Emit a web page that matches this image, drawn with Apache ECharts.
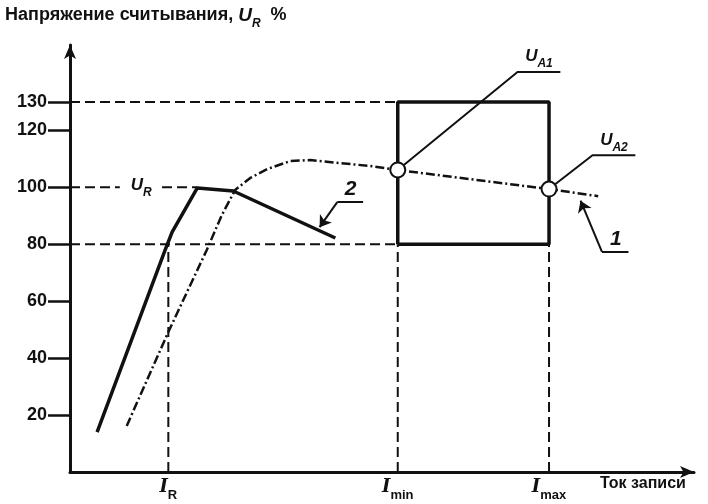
<!DOCTYPE html>
<html><head><meta charset="utf-8">
<script src="https://cdn.jsdelivr.net/npm/echarts@6/dist/echarts.min.js"></script>
<style>html,body{margin:0;padding:0;background:#fff}#c{width:708px;height:504px}</style>
</head><body><div id="c"></div>
<script>
// ---- data ----
const yTicks = [20, 40, 60, 80, 100, 120, 130];
const xMarkValues = [15.6, 52, 76];
const xMarkNames = ['R', 'min', 'max'];
const curve2 = [[4.3,14.0],[15.1,78.0],[16.2,84.3],[20.2,99.8],[25.9,98.7],[42.1,82.2]];
const curve1 = [[9.0,16.2],[15.6,49.2],[21.7,78.0],[24.1,90.3],[26.2,99.1],[28.6,103.3],[31.3,106.4],[34.9,109.2],[38.1,109.6],[42.9,108.5],[47.6,107.5],[52,106.1],[76,99.4],[83.8,96.9]];
const markedX = [52, 76];
const boxX = [52, 76];
const boxY = [80, 130];
const refU = 100;
const refUEnd = 20.2;
const refUGap = [7.9, 14.6];
// annotation leaders (data coords)
const leaderA1 = [[52,106.1],[71.0,140.5],[77.8,140.5]];
const leaderA2 = [[76,99.4],[82.9,111.3],[89.7,111.3]];
const leader1 = [[81.0,95.3],[84.4,77.3],[88.6,77.3]];
const leader2 = [[39.6,86.0],[42.4,94.8],[46.5,94.8]];
const notes = [
  {pos:[74.4,145.2], text:'{u|U}{s|A1}'},
  {pos:[86.3,115.8], text:'{u|U}{s|A2}'},
  {pos:[86.6,81.8], text:'{n|1}'},
  {pos:[44.5,99.3], text:'{n|2}'},
  {pos:[11.3,100], text:'{u|U}{s|R}'}
];

const black = '#111';
const dashed = {color: black, width: 2, type: [10, 5]};
function seg(data, style, z) {
  return {type:'line', data:data, symbol:'none', silent:true, lineStyle:style, z: z||2, animation:false};
}
const rich = {
  u: {fontSize:17, fontWeight:'bold', fontStyle:'italic', color:black, fontFamily:'Liberation Sans', lineHeight:22, verticalAlign:'top'},
  s: {fontSize:12, fontWeight:'bold', fontStyle:'italic', color:black, fontFamily:'Liberation Sans', lineHeight:22, verticalAlign:'bottom', padding:[8,0,0,0]},
  n: {fontSize:21, fontWeight:'bold', fontStyle:'italic', color:black, fontFamily:'Liberation Sans'}
};

const curve1Data = curve1.map(p => markedX.indexOf(p[0]) >= 0
  ? {value:p, symbol:'emptyCircle', symbolSize:15, itemStyle:{color:black, borderColor:black, borderWidth:2.5}}
  : {value:p, symbol:'none'});

const boxData = [[boxX[0],boxY[0]],[boxX[0],boxY[1]],[boxX[1],boxY[1]],[boxX[1],boxY[0]],[boxX[0],boxY[0]]];

function leaderMark(pts, arrow) {
  return [
    [{coord:pts[0], symbol: arrow ? 'arrow' : 'none'}, {coord:pts[1], symbol:'none'}],
    [{coord:pts[1], symbol:'none'}, {coord:pts[2], symbol:'none'}]
  ];
}

const chart = echarts.init(document.getElementById('c'), null, {renderer:'canvas'});
chart.setOption({
  animation:false,
  backgroundColor:'#fff',
  grid:{left:70, right:14, top:45, bottom:32},
  xAxis:{type:'value', min:0, max:99,
    axisLine:{show:true, onZero:false, lineStyle:{color:black, width:3}, symbol:['none','arrow'], symbolSize:[9,14]},
    axisTick:{show:false}, splitLine:{show:false},
    axisLabel:{customValues:xMarkValues, margin:6,
      formatter:function(v){ const i = xMarkValues.indexOf(v); return '{u|I}{s|' + xMarkNames[i] + '}'; },
      rich:{u:{fontSize:18, fontWeight:'bold', fontStyle:'italic', color:black, fontFamily:'DejaVu Serif', lineHeight:24, verticalAlign:'top'},
            s:{fontSize:13, fontWeight:'bold', color:black, fontFamily:'Liberation Sans', lineHeight:24, verticalAlign:'bottom', padding:[10,0,0,0]}}}
  },
  yAxis:{type:'value', min:0, max:150,
    axisLine:{show:true, onZero:false, lineStyle:{color:black, width:3}, symbol:['none','arrow'], symbolSize:[9,14]},
    axisTick:{show:true, customValues:yTicks, length:22, lineStyle:{color:black, width:2.5}},
    splitLine:{show:false},
    axisLabel:{customValues:yTicks, margin:23, fontSize:18, fontWeight:'bold', color:black, fontFamily:'Liberation Sans'}
  },
  graphic:[
    {type:'text', left:5, top:6, style:{text:'{t|Напряжение считывания, }{u|U}{s|R}{t|  %}', rich:{
      t:{fontSize:18, fontWeight:'bold', fill:black, fontFamily:'Liberation Sans', lineHeight:24, verticalAlign:'top'},
      u:{fontSize:19, fontWeight:'bold', fontStyle:'italic', fill:black, fontFamily:'Liberation Sans', lineHeight:24, verticalAlign:'top'},
      s:{fontSize:12, fontWeight:'bold', fontStyle:'italic', fill:black, fontFamily:'Liberation Sans', lineHeight:24, verticalAlign:'bottom'}}}},
    {type:'text', left:600, top:476, style:{text:'Ток записи', fontSize:16, fontWeight:'bold', fill:black, fontFamily:'Liberation Sans'}}
  ],
  series:[
    seg([[0,boxY[1]],[boxX[0],boxY[1]]], dashed),
    seg([[0,boxY[0]],[boxX[0],boxY[0]]], dashed),
    seg([[0,refU],[refUGap[0],refU]], dashed),
    seg([[refUGap[1],refU],[refUEnd,refU]], dashed),
    seg([[xMarkValues[0],0],[xMarkValues[0],boxY[0]]], dashed),
    seg([[boxX[0],0],[boxX[0],boxY[0]]], dashed),
    seg([[boxX[1],0],[boxX[1],boxY[0]]], dashed),
    seg(boxData, {color:black, width:3.5}, 3),
    seg(curve2, {color:black, width:3.5}, 4),
    {type:'line', data:curve1Data, symbol:'none', showSymbol:true, silent:true, z:5, animation:false,
      itemStyle:{color:black},
      lineStyle:{color:black, width:2.5, type:[9,3,2,3]}},
    seg(leaderA1, {color:black, width:2}, 4),
    seg(leaderA2, {color:black, width:2}, 4),
    {type:'line', data:[], silent:true, animation:false,
      markLine:{silent:true, animation:false, symbolSize:11, label:{show:false},
        itemStyle:{color:black},
        lineStyle:{color:black, width:2, type:'solid'},
        data: leaderMark(leader1, true).concat(leaderMark(leader2, true))}},
    {type:'scatter', silent:true, animation:false, symbolSize:0, z:6, itemStyle:{color:black, opacity:1},
      data: notes.map(n => ({value:n.pos, itemStyle:{opacity:1},
        label:{show:true, position:'inside', color:black, opacity:1, textBorderWidth:0, formatter:n.text, rich:rich}}))}
  ]
});
</script></body></html>
